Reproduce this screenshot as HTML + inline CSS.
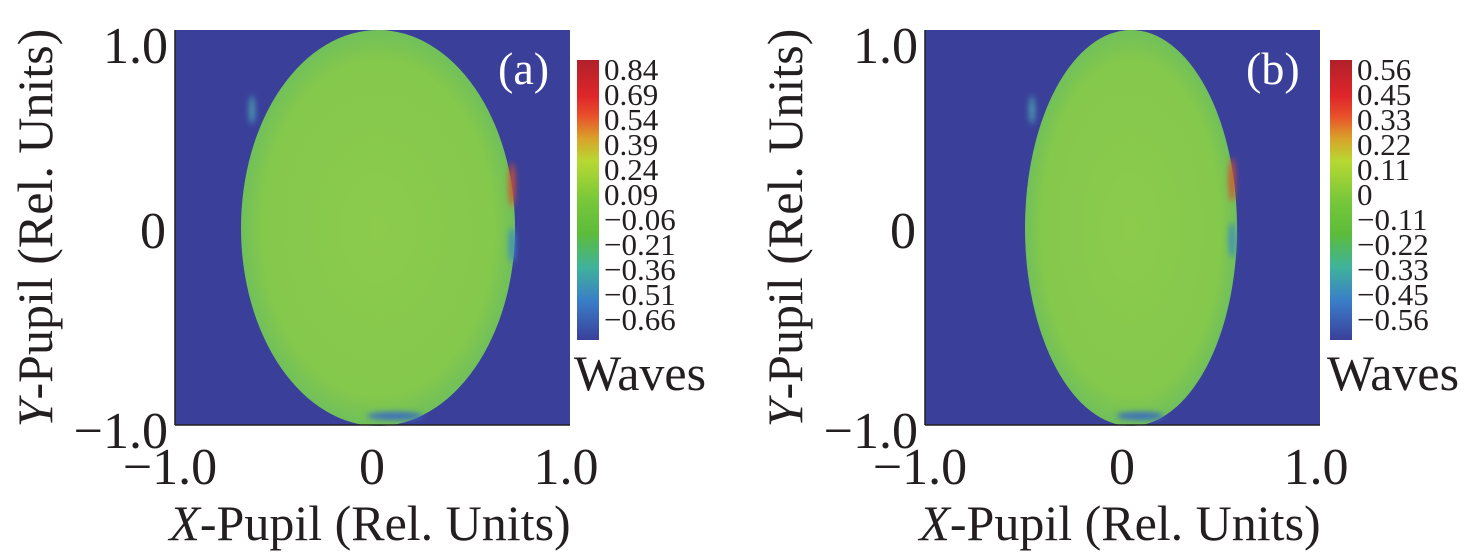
<!DOCTYPE html>
<html><head><style>body{margin:0;background:#fff}svg{display:block}</style></head><body>
<svg width="1476" height="552" xmlns="http://www.w3.org/2000/svg" font-family="Liberation Serif, serif" fill="#231f20">
<defs>
<linearGradient id="cb" x1="0" y1="0" x2="0" y2="1">
<stop offset="0" stop-color="#b0202a"/><stop offset="0.13" stop-color="#e0262a"/>
<stop offset="0.2" stop-color="#e8502a"/><stop offset="0.28" stop-color="#d9a22a"/>
<stop offset="0.36" stop-color="#b8d832"/><stop offset="0.5" stop-color="#78c83a"/>
<stop offset="0.62" stop-color="#5cbc3a"/><stop offset="0.74" stop-color="#3fb39a"/>
<stop offset="0.86" stop-color="#3a7ec8"/><stop offset="1" stop-color="#3a409a"/>
</linearGradient>
<radialGradient id="el" cx="0.5" cy="0.5" r="0.5">
<stop offset="0" stop-color="#8ccb4c"/><stop offset="0.85" stop-color="#84c84c"/><stop offset="1" stop-color="#70c05a"/>
</radialGradient>
<filter id="bl"><feGaussianBlur stdDeviation="3"/></filter>
</defs>
<g>
<rect x="175" y="30" width="395" height="395" fill="#3a409a"/>
<ellipse cx="378" cy="228" rx="137" ry="198" fill="url(#el)"/>
<g filter="url(#bl)">
<ellipse cx="512" cy="185" rx="3" ry="22" fill="#d8502a"/>
<ellipse cx="512" cy="245" rx="3" ry="18" fill="#3a8ec0"/>
<ellipse cx="395" cy="416" rx="28" ry="4" fill="#3a6ec0"/>
<ellipse cx="252" cy="110" rx="3" ry="14" fill="#4a9ab0"/>
</g>
<line x1="175" y1="30" x2="175" y2="425" stroke="#231f20" stroke-width="1.5"/>
<line x1="175" y1="425" x2="570" y2="425" stroke="#231f20" stroke-width="1.5"/>
<text x="498" y="84" font-size="46" fill="#fff">(a)</text>
<rect x="577" y="60" width="22" height="280" fill="url(#cb)"/>
<g font-size="31">
<text x="604" y="80">0.84</text><text x="604" y="105">0.69</text><text x="604" y="130">0.54</text>
<text x="604" y="155">0.39</text><text x="604" y="180">0.24</text><text x="604" y="205">0.09</text>
<text x="604" y="230">−0.06</text><text x="604" y="255">−0.21</text><text x="604" y="280">−0.36</text>
<text x="604" y="305">−0.51</text><text x="604" y="330">−0.66</text>
</g>
<text x="574" y="390" font-size="50">Waves</text>
<g font-size="52" text-anchor="end">
<text x="168" y="63">1.0</text><text x="166" y="248">0</text><text x="168" y="448">−1.0</text>
</g>
<g font-size="52" text-anchor="middle">
<text x="170" y="484">−1.0</text><text x="372" y="484">0</text><text x="566" y="484">1.0</text>
</g>
<text x="370" y="540" font-size="50" text-anchor="middle"><tspan font-style="italic">X</tspan>-Pupil (Rel. Units)</text>
<text transform="translate(52,228) rotate(-90)" font-size="50" text-anchor="middle"><tspan font-style="italic">Y</tspan>-Pupil (Rel. Units)</text>
</g>
<g>
<rect x="925" y="30" width="395" height="395" fill="#3a409a"/>
<ellipse cx="1131" cy="228" rx="106" ry="198" fill="url(#el)"/>
<g filter="url(#bl)">
<ellipse cx="1232" cy="180" rx="3" ry="22" fill="#d8502a"/>
<ellipse cx="1232" cy="240" rx="3" ry="18" fill="#3a8ec0"/>
<ellipse cx="1140" cy="416" rx="24" ry="4" fill="#3a6ec0"/>
<ellipse cx="1032" cy="110" rx="3" ry="14" fill="#4a9ab0"/>
</g>
<line x1="925" y1="30" x2="925" y2="425" stroke="#231f20" stroke-width="1.5"/>
<line x1="925" y1="425" x2="1320" y2="425" stroke="#231f20" stroke-width="1.5"/>
<text x="1246" y="84" font-size="46" fill="#fff">(b)</text>
<rect x="1330" y="60" width="22" height="280" fill="url(#cb)"/>
<g font-size="31">
<text x="1357" y="80">0.56</text><text x="1357" y="105">0.45</text><text x="1357" y="130">0.33</text>
<text x="1357" y="155">0.22</text><text x="1357" y="180">0.11</text><text x="1357" y="205">0</text>
<text x="1357" y="230">−0.11</text><text x="1357" y="255">−0.22</text><text x="1357" y="280">−0.33</text>
<text x="1357" y="305">−0.45</text><text x="1357" y="330">−0.56</text>
</g>
<text x="1327" y="390" font-size="50">Waves</text>
<g font-size="52" text-anchor="end">
<text x="918" y="63">1.0</text><text x="916" y="248">0</text><text x="918" y="448">−1.0</text>
</g>
<g font-size="52" text-anchor="middle">
<text x="920" y="484">−1.0</text><text x="1122" y="484">0</text><text x="1316" y="484">1.0</text>
</g>
<text x="1120" y="540" font-size="50" text-anchor="middle"><tspan font-style="italic">X</tspan>-Pupil (Rel. Units)</text>
<text transform="translate(802,228) rotate(-90)" font-size="50" text-anchor="middle"><tspan font-style="italic">Y</tspan>-Pupil (Rel. Units)</text>
</g>
</svg>
</body></html>
